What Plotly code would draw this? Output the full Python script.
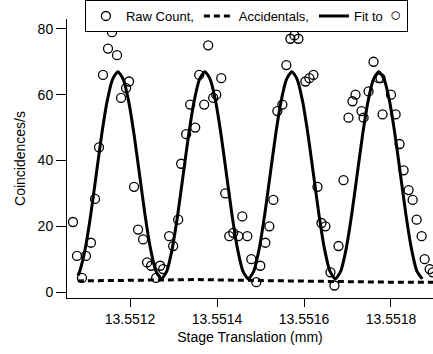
import plotly.graph_objects as go

# Raw coincidence counts (stage position in mm, counts/s)
raw_x = [13.5510687, 13.5510779, 13.5510894, 13.5510986, 13.5511101, 13.5511194, 13.5511286,
         13.5511378, 13.5511493, 13.5511585, 13.5511700, 13.5511793, 13.5511908, 13.5511977,
         13.5512092, 13.5512184, 13.5512300, 13.5512392, 13.5512484, 13.5512599, 13.5512691,
         13.5512760, 13.5512899, 13.5512991, 13.5513106, 13.5513175, 13.5513290, 13.5513382,
         13.5513498, 13.5513590, 13.5513705, 13.5513797, 13.5513912, 13.5513982, 13.5514097,
         13.5514189, 13.5514281, 13.5514373, 13.5514488, 13.5514581, 13.5514696, 13.5514788,
         13.5514903, 13.5514995, 13.5515111, 13.5515203, 13.5515295, 13.5515387, 13.5515502,
         13.5515594, 13.5515687, 13.5515779, 13.5515871, 13.5516032, 13.5516124, 13.5516217,
         13.5516309, 13.5516401, 13.5516493, 13.5516608, 13.5516700, 13.5516793, 13.5516908,
         13.5517023, 13.5517115, 13.5517184, 13.5517322, 13.5517369, 13.5517484, 13.5517599,
         13.5517714, 13.5517760, 13.5517806, 13.5518000, 13.5518106, 13.5518198, 13.5518290,
         13.5518405, 13.5518498, 13.5518590, 13.5518705, 13.5518774, 13.5518889, 13.5518958]
raw_y = [21.3, 11.0, 4.3, 11.0, 15.0, 28.3, 44.0,
         66.0, 74.0, 79.0, 72.0, 59.0, 62.0, 64.0,
         32.0, 19.0, 16.0, 9.0, 8.0, 4.3, 8.0,
         7.0, 17.0, 14.0, 22.0, 39.0, 48.0, 57.0,
         50.0, 66.0, 57.0, 75.0, 59.0, 60.0, 65.0,
         30.0, 17.0, 18.0, 17.0, 23.0, 17.0, 10.0,
         3.0, 8.0, 15.0, 20.0, 28.0, 55.0, 57.0,
         69.0, 77.0, 78.0, 77.0, 64.0, 65.0, 66.0,
         32.0, 21.0, 20.0, 6.0, 2.0, 14.0, 34.0,
         53.0, 58.0, 60.0, 55.0, 53.0, 61.0, 70.0,
         65.0, 65.0, 54.0, 60.0, 54.0, 45.0, 37.0,
         31.0, 28.0, 22.0, 17.0, 10.0, 7.0, 6.0]

# Accidental coincidences
acc_x = [13.551080, 13.551200, 13.551350, 13.551500, 13.551650, 13.551800, 13.551900]
acc_y = [3.4, 3.5, 3.8, 3.5, 3.2, 3.0, 3.0]

fit_x = [13.551080, 13.5510845, 13.551097, 13.5511095, 13.551122, 13.5511345, 13.551147, 13.5511595,
         13.551172, 13.5511845, 13.551197, 13.5512095, 13.551222, 13.5512345, 13.551247, 13.5512595,
         13.551272, 13.5512845, 13.551297, 13.5513095, 13.551322, 13.5513345, 13.551347, 13.5513595,
         13.551372, 13.5513845, 13.551397, 13.5514095, 13.551422, 13.5514345, 13.551447, 13.5514595,
         13.551472, 13.5514845, 13.551497, 13.5515095, 13.551522, 13.5515345, 13.551547, 13.5515595,
         13.551572, 13.5515845, 13.551597, 13.5516095, 13.551622, 13.5516345, 13.551647, 13.5516595,
         13.551672, 13.5516845, 13.551697, 13.5517095, 13.551722, 13.5517345, 13.551747, 13.5517595,
         13.551772, 13.5517845, 13.551797, 13.5518095, 13.551822, 13.5518345, 13.551847, 13.5518595,
         13.551872]
fit_y = [5.0, 6.4, 13.2, 23.4, 35.5, 47.6, 57.8, 64.6,
         67.0, 64.6, 57.8, 47.6, 35.5, 23.4, 13.2, 6.4,
         4.0, 6.4, 13.2, 23.4, 35.5, 47.6, 57.8, 64.6,
         67.0, 64.6, 57.8, 47.6, 35.5, 23.4, 13.2, 6.4,
         4.0, 6.4, 13.2, 23.4, 35.5, 47.6, 57.8, 64.6,
         67.0, 64.6, 57.8, 47.6, 35.5, 23.4, 13.2, 6.4,
         4.0, 6.4, 13.2, 23.4, 35.5, 47.6, 57.8, 64.6,
         67.0, 64.6, 57.8, 47.6, 35.5, 23.4, 13.2, 6.4,
         4.0]

x_ticks = [13.5512, 13.5514, 13.5516, 13.5518]
x_tick_labels = ["13.5512", "13.5514", "13.5516", "13.5518"]
y_ticks = [0, 20, 40, 60, 80]

FONT = "Liberation Sans, Arial, sans-serif"
FS = 14

fig = go.Figure()
fig.add_trace(go.Scatter(
    x=raw_x, y=raw_y, mode="markers", name="Raw Count,",
    marker=dict(symbol="circle-open", size=9, color="black", line=dict(width=1.3, color="black")),
))
fig.add_trace(go.Scatter(
    x=acc_x, y=acc_y, mode="lines", name="Accidentals,",
    line=dict(color="black", width=3, dash="6px,4px"),
))
fig.add_trace(go.Scatter(
    x=fit_x, y=fit_y, mode="lines",
    name="Fit to  <span style='font-size:19px'>○</span>",
    line=dict(color="black", width=3, shape="spline", smoothing=0.6),
))

fig.update_layout(
    width=433, height=354,
    margin=dict(l=67, r=0, t=19, b=56),
    paper_bgcolor="white", plot_bgcolor="white",
    font=dict(family=FONT, size=FS, color="black"),
    showlegend=True,
    legend=dict(
        orientation="h", x=0.049, y=1.068, xanchor="left", yanchor="top",
        bgcolor="white", bordercolor="black", borderwidth=1,
        font=dict(family=FONT, size=13, color="black"),
        itemwidth=30, tracegroupgap=0,
    ),
    xaxis=dict(
        range=[13.551055, 13.5518966],
        tickvals=x_ticks, ticktext=x_tick_labels,
        ticks="outside", ticklen=8, tickwidth=1, tickcolor="black",
        showline=True, linecolor="black", linewidth=1,
        showgrid=False, zeroline=False,
        title=dict(text="Stage Translation (mm)", standoff=6, font=dict(size=FS)),
        tickfont=dict(size=FS),
    ),
    yaxis=dict(
        range=[-1.8, 83],
        tickvals=y_ticks,
        ticks="outside", ticklen=10, tickwidth=1, tickcolor="black",
        showline=True, linecolor="black", linewidth=1,
        showgrid=False, zeroline=False,
        title=dict(text="Coincidences/s", standoff=8, font=dict(size=FS)),
        tickfont=dict(size=FS),
    ),
)

fig.write_html("out.html")
